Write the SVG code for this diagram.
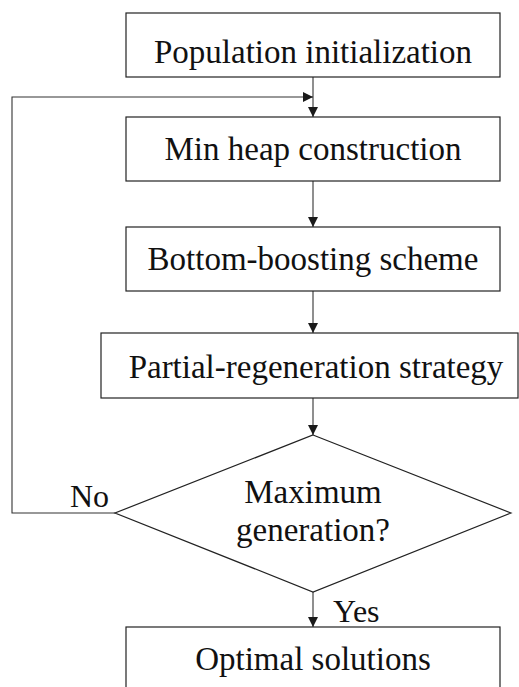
<svg xmlns="http://www.w3.org/2000/svg" width="519" height="687" viewBox="0 0 519 687">
<defs>
<marker id="ah" viewBox="0 0 10 10" refX="10" refY="5" markerWidth="10" markerHeight="10" markerUnits="userSpaceOnUse" orient="auto">
<path d="M0,0 L10,5 L0,10 z" fill="#1a1a1a"/>
</marker>
<style>
.box{fill:#fff;stroke:#222;stroke-width:1.2}
.t{font-family:'Liberation Serif','DejaVu Serif',serif;font-size:33px;fill:#111;text-anchor:middle}
.l{font-family:'Liberation Serif','DejaVu Serif',serif;font-size:32px;fill:#111}
.c{fill:none;stroke:#333;stroke-width:1.1}
</style>
</defs>
<rect width="519" height="687" fill="#fff"/>
<g id="connectors">
<path class="c" d="M313,77 V117" marker-end="url(#ah)"/>
<path class="c" d="M115,513 H12 V97 H313" marker-end="url(#ah)"/>
<path class="c" d="M313,181 V227" marker-end="url(#ah)"/>
<path class="c" d="M313,291 V333" marker-end="url(#ah)"/>
<path class="c" d="M313,398 V435" marker-end="url(#ah)"/>
<path class="c" d="M313,592 V627" marker-end="url(#ah)"/>
</g>
<g id="n1"><rect class="box" x="126" y="13" width="374" height="64"/><text class="t" x="313" y="63">Population initialization</text></g>
<g id="n2"><rect class="box" x="126" y="117" width="374" height="64"/><text class="t" x="313" y="160">Min heap construction</text></g>
<g id="n3"><rect class="box" x="126" y="227" width="374" height="64"/><text class="t" x="313" y="270">Bottom-boosting scheme</text></g>
<g id="n4"><rect class="box" x="101" y="333" width="417" height="65"/><text class="t" x="316" y="378">Partial-regeneration strategy</text></g>
<g id="n5"><path class="box" d="M313,435 L511,513 L313,592 L115,513 Z"/><text class="t" x="313" y="503">Maximum</text><text class="t" x="313" y="541">generation?</text></g>
<g id="n6"><rect class="box" x="126" y="627" width="374" height="70"/><text class="t" x="313" y="670">Optimal solutions</text></g>
<g id="labels"><text class="l" x="70" y="507">No</text><text class="l" x="333" y="622">Yes</text></g>
</svg>
